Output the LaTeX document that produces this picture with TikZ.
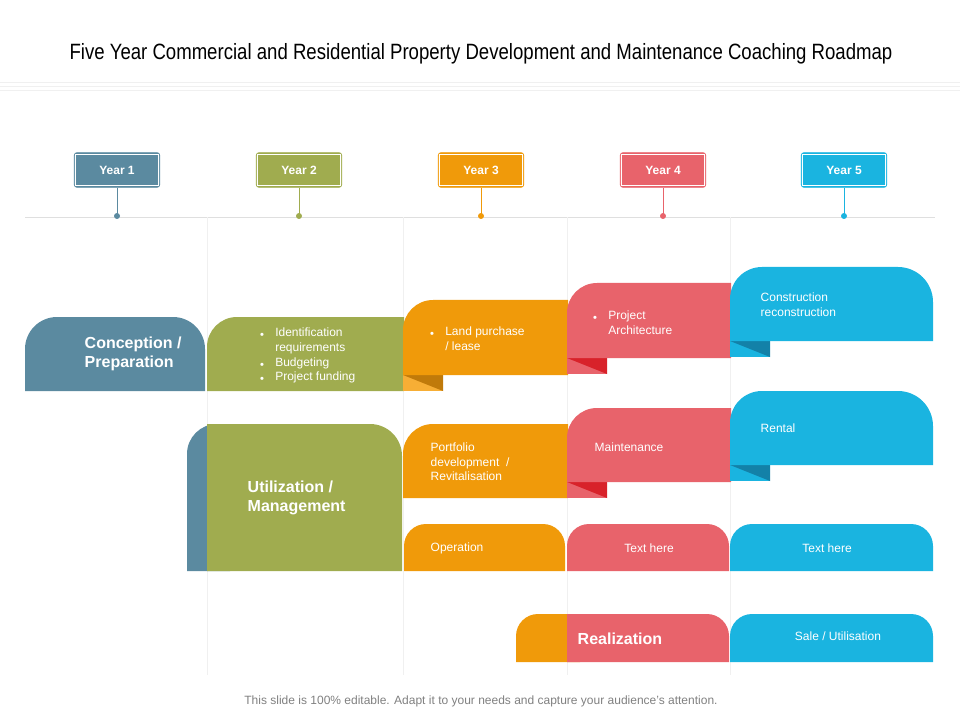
\documentclass[tikz,border=0pt]{standalone}
\usepackage{fontspec}
\setmainfont{Liberation Sans}
\definecolor{cblue}{HTML}{5B8AA0}
\definecolor{cgreen}{HTML}{A0AC4F}
\definecolor{corange}{HTML}{F09A0A}
\definecolor{cred}{HTML}{E8636B}
\definecolor{ccyan}{HTML}{1AB4E0}
\definecolor{forange}{HTML}{C07A0A}
\definecolor{lorange}{HTML}{F7AE35}
\definecolor{fred}{HTML}{D8222A}
\definecolor{fcyan}{HTML}{1381A8}
\tikzset{
  txt/.style={text=white, font=\small, align=left, anchor=north west},
  head/.style={text=white, font=\bfseries\large, align=left, anchor=west},
}
% top-rounded tab: x1,y1,x2,y2,left radius,right radius
\newcommand{\tabshape}[7]{%
  \fill[#7] (#1,#4) -- (#1,#2+#5) arc[start angle=180,end angle=270,radius=#5] -- (#3-#6,#2)
    arc[start angle=270,end angle=360,radius=#6] -- (#3,#4) -- cycle;}
% folded corner under a tab
\newcommand{\fold}[4]{%
  \fill[#3] (#1,#2) rectangle (#1+40,#2+16);
  \fill[#4] (#1,#2) -- (#1+40,#2) -- (#1+40,#2+16) -- cycle;}
\begin{document}
\begin{tikzpicture}[x=0.75pt,y=-0.75pt]
    \useasboundingbox (0,0) rectangle (960,720);

    \node[font=\fontsize{16.6}{20}\selectfont] (title) at (481,54) {\addfontfeature{FakeStretch=0.84}Five Year Commercial and Residential Property Development and Maintenance Coaching Roadmap};
    \foreach \yy in {82,86,90} \draw[gray!12] (0,\yy) -- (960,\yy);

    % timeline and grid
    \draw[gray!25] (25,217) -- (935,217);
    \foreach \xx in {207,403,567,730} \draw[gray!12] (\xx,217) -- (\xx,675);

    % years
    \node[draw=cblue, fill=cblue, text=white, font=\bfseries\small, minimum width=64pt, minimum height=26pt, rounded corners=2pt, line width=0.6pt] (y1) at (117,170) {Year 1};
    \node[draw=cgreen, fill=cgreen, text=white, font=\bfseries\small, minimum width=64pt, minimum height=26pt, rounded corners=2pt, line width=0.6pt] (y2) at (299,170) {Year 2};
    \node[draw=corange, fill=corange, text=white, font=\bfseries\small, minimum width=64pt, minimum height=26pt, rounded corners=2pt, line width=0.6pt] (y3) at (481,170) {Year 3};
    \node[draw=cred, fill=cred, text=white, font=\bfseries\small, minimum width=64pt, minimum height=26pt, rounded corners=2pt, line width=0.6pt] (y4) at (663,170) {Year 4};
    \node[draw=ccyan, fill=ccyan, text=white, font=\bfseries\small, minimum width=64pt, minimum height=26pt, rounded corners=2pt, line width=0.6pt] (y5) at (844,170) {Year 5};
    \foreach \n/\c/\xx in {y1/cblue/117,y2/cgreen/299,y3/corange/481,y4/cred/663,y5/ccyan/844} {
        \draw[white, line width=0.8pt] ([xshift=1.5pt,yshift=-1.5pt]\n.north west) rectangle ([xshift=-1.5pt,yshift=1.5pt]\n.south east);
        \coordinate (\n d) at (\xx,216);
        \draw[\c] (\n) -- (\n d);
        \fill[\c] (\n d) circle[radius=3];
    }

    % row 1
    \tabshape{207}{317}{404}{391}{30}{0.1}{cgreen}
    \fold{403}{375}{lorange}{forange}
    \tabshape{403}{300}{568}{375}{30}{0.1}{corange}
    \fold{567}{358}{cred}{fred}
    \tabshape{567}{283}{731}{358}{30}{0.1}{cred}
    \fold{730}{341}{ccyan}{fcyan}
    \tabshape{730}{267}{933}{341}{32}{35}{ccyan}
    \tabshape{25}{317}{205}{391}{32}{32}{cblue}

    % row 2
    \tabshape{187}{424}{230}{571}{30}{0.1}{cblue}
    \fill[cgreen] (207,424) rectangle (370,571);
    \tabshape{207}{424}{402}{571}{0.1}{32}{cgreen}
    \tabshape{403}{424}{568}{498}{30}{0.1}{corange}
    \fold{567}{482}{cred}{fred}
    \tabshape{567}{408}{731}{482}{30}{0.1}{cred}
    \fold{730}{465}{ccyan}{fcyan}
    \tabshape{730}{391}{933}{465}{32}{35}{ccyan}

    % row 3
    \tabshape{404}{524}{565}{571}{22}{22}{corange}
    \tabshape{567}{524}{729}{571}{22}{22}{cred}
    \tabshape{730}{524}{933}{571}{22}{22}{ccyan}

    % row 4
    \tabshape{516}{614}{580}{662}{22}{0.1}{corange}
    \tabshape{567}{614}{729}{662}{0.1}{22}{cred}
    \tabshape{730}{614}{933}{662}{22}{22}{ccyan}

    % texts
    \node[head] (cp) at (80,354) {Conception /\\Preparation};
    \node[txt] (idr) at (255,322) {\begin{tabular}{@{}l@{\hspace{8pt}}l@{}}\tiny$\bullet$ & Identification\\ & requirements\\ \tiny$\bullet$ & Budgeting\\ \tiny$\bullet$ & Project funding\end{tabular}};
    \node[txt] (land) at (425,321) {\begin{tabular}{@{}l@{\hspace{8pt}}l@{}}\tiny$\bullet$ & Land purchase\\ & / lease\end{tabular}};
    \node[txt] (arch) at (588,305) {\begin{tabular}{@{}l@{\hspace{8pt}}l@{}}\tiny$\bullet$ & Project\\ & Architecture\end{tabular}};
    \node[txt] (cons) at (756,288) {Construction\\reconstruction};
    \node[head] (um) at (243,498) {Utilization /\\Management};
    \node[txt] (port) at (426,438) {Portfolio\\development~~/\\Revitalisation};
    \node[txt, anchor=west] (maint) at (590,447) {Maintenance};
    \node[txt, anchor=west] (rent) at (756,428) {Rental};
    \node[txt, anchor=west] (oper) at (426,548) {Operation};
    \node[txt, anchor=center] (th1) at (649,548) {Text here};
    \node[txt, anchor=center] (th2) at (827,548) {Text here};
    \node[head] (real) at (573,639) {Realization};
    \node[txt, anchor=center] (sale) at (838,636) {Sale / Utilisation};

    \node[text=gray, font=\fontsize{9}{11}\selectfont] (foot) at (481,701) {This slide is 100\% editable. Adapt it to your needs and capture your audience’s attention.};
\end{tikzpicture}
\end{document}
